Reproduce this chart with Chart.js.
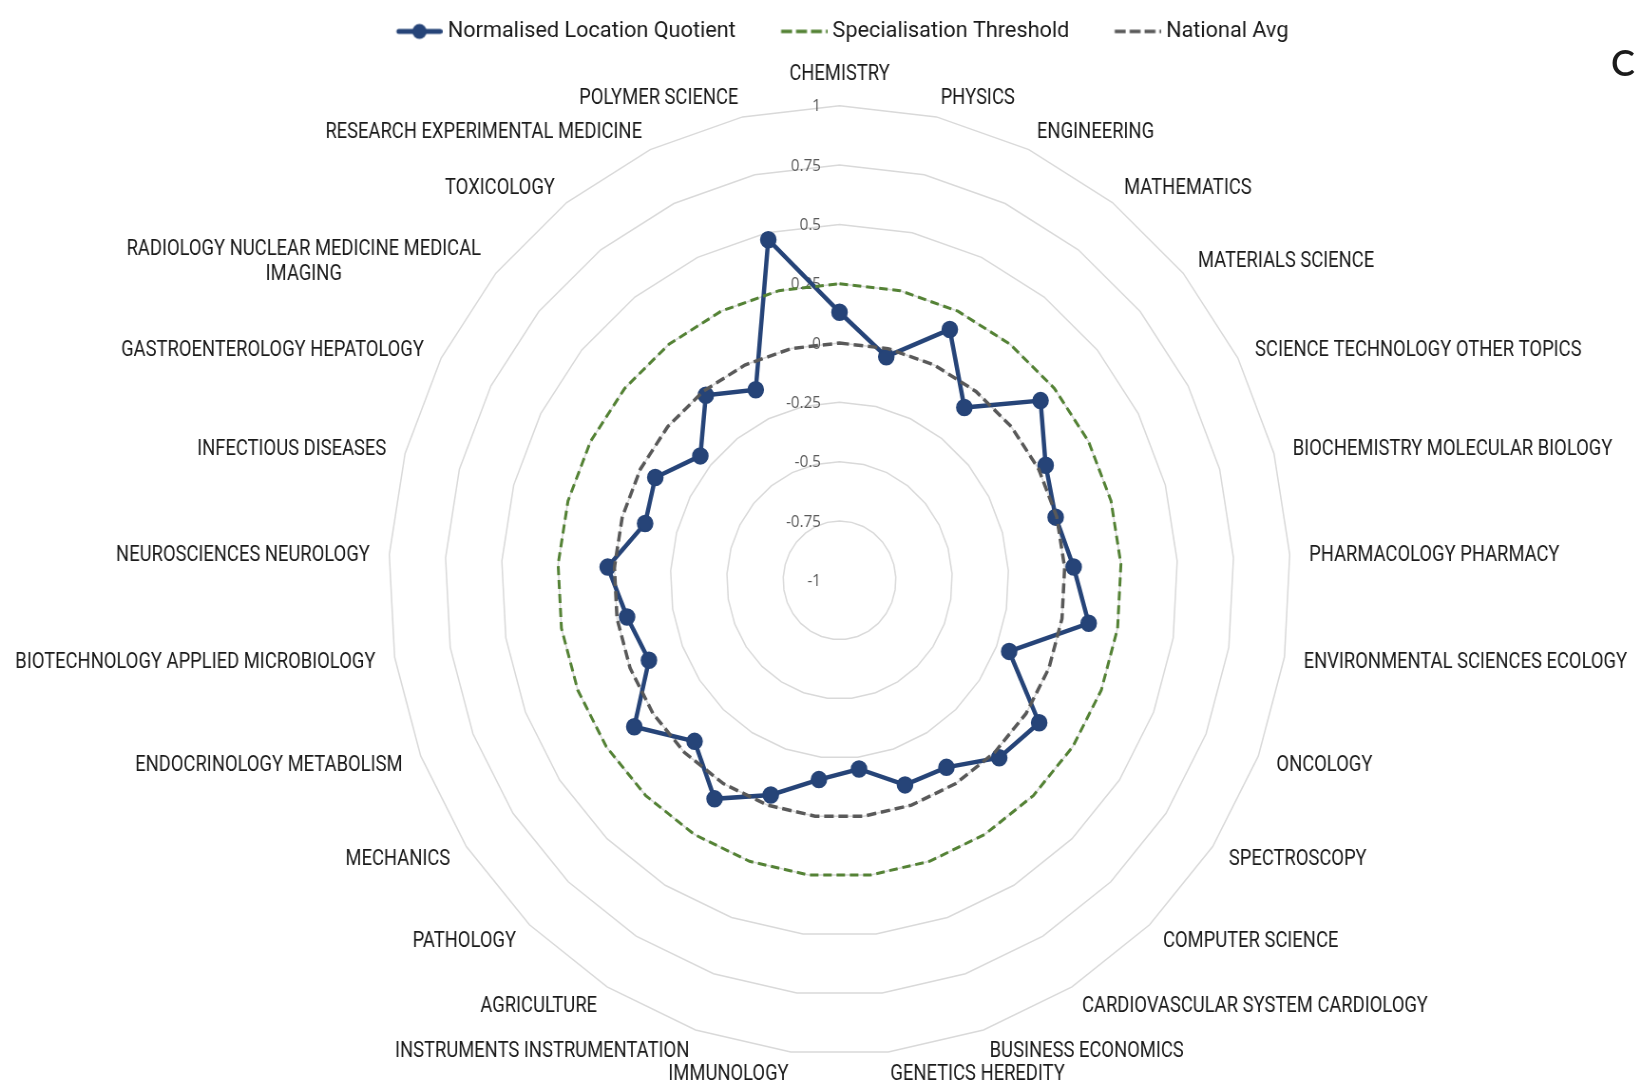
<!DOCTYPE html>
<html>
<head>
<meta charset="utf-8">
<script src="https://cdn.jsdelivr.net/npm/chart.js@4.4.1/dist/chart.umd.min.js"></script>
<style>
  html, body { margin: 0; padding: 0; background: #ffffff; width: 1640px; height: 1088px; overflow: hidden; }
  #wrap { position: absolute; left: 0; top: 0; width: 1726px; height: 1088px; transform: scaleX(0.9502); transform-origin: 0 0; }
  #chart { display: block; }
  #mark { position: absolute; left: 1611px; top: 44px; font-family: Lato, 'Open Sans', sans-serif; font-size: 36px; line-height: 36px; font-weight: 600; color: #1b1b1b; }
</style>
</head>
<body>
<div id="wrap"><canvas id="chart" width="1726" height="1088"></canvas></div>
<div id="mark">C</div>
<script>
// ---- data ----
const categories = [
  'CHEMISTRY', 'PHYSICS', 'ENGINEERING', 'MATHEMATICS', 'MATERIALS SCIENCE',
  'SCIENCE TECHNOLOGY OTHER TOPICS', 'BIOCHEMISTRY MOLECULAR BIOLOGY', 'PHARMACOLOGY PHARMACY',
  'ENVIRONMENTAL SCIENCES ECOLOGY', 'ONCOLOGY', 'SPECTROSCOPY', 'COMPUTER SCIENCE',
  'CARDIOVASCULAR SYSTEM CARDIOLOGY', 'BUSINESS ECONOMICS', 'GENETICS HEREDITY', 'IMMUNOLOGY',
  'INSTRUMENTS INSTRUMENTATION', 'AGRICULTURE', 'PATHOLOGY', 'MECHANICS',
  'ENDOCRINOLOGY METABOLISM', 'BIOTECHNOLOGY APPLIED MICROBIOLOGY', 'NEUROSCIENCES NEUROLOGY',
  'INFECTIOUS DISEASES', 'GASTROENTEROLOGY HEPATOLOGY',
  ['RADIOLOGY NUCLEAR MEDICINE MEDICAL', 'IMAGING'],
  'TOXICOLOGY', 'RESEARCH EXPERIMENTAL MEDICINE', 'POLYMER SCIENCE'
];
const locationQuotient = [
  0.13, -0.035, 0.165, -0.085, 0.17, 0.035, -0.005, 0.04, 0.12, -0.19,
  0.07, 0.03, -0.08, -0.09, -0.20, -0.155, -0.045, 0.075, -0.065, 0.10,
  -0.09, -0.045, 0.03, -0.105, -0.075, -0.19, -0.02, -0.115, 0.47
];
const specialisationThreshold = [
  0.25, 0.25, 0.25, 0.25, 0.25, 0.25, 0.25, 0.25, 0.25, 0.25,
  0.25, 0.25, 0.25, 0.25, 0.25, 0.25, 0.25, 0.25, 0.25, 0.25,
  0.25, 0.25, 0.25, 0.25, 0.25, 0.25, 0.25, 0.25, 0.25
];
const nationalAvg = [
  0, 0, 0, 0, 0, 0, 0, 0, 0, 0,
  0, 0, 0, 0, 0, 0, 0, 0, 0, 0,
  0, 0, 0, 0, 0, 0, 0, 0, 0
];
const tickValues = [-1, -0.75, -0.5, -0.25, 0, 0.25, 0.5, 0.75, 1];
const tickLabels = ['-1', '-0.75', '-0.5', '-0.25', '0', '0.25', '0.5', '0.75', '1'];
const seriesNames = ['Normalised Location Quotient', 'Specialisation Threshold', 'National Avg'];

// ---- styling / geometry ----
const COL_BLUE = '#264478', COL_GREEN = '#548235', COL_GREY = '#595959';
const CX = 883.5, CY = 580.3, RADIUS = 474.5;
const LABEL_FONT = "21.5px Roboto, 'Noto Sans', sans-serif";
const LABEL_SX = 0.90;
const LABEL_LINE = 25;
const LABEL_PAD = 20.5;
const LABEL_DY = 2;
const TICK_FONT = "16px 'Open Sans', 'Noto Sans', sans-serif";
const LEG_FS = 22.8, LEG_W = 48.5, LEG_IMG_W = 92, LEG_H = 24, LEG_BOX = 80.4;

function legendSample(color, withMarker, lw) {
  const c = document.createElement('canvas');
  c.width = LEG_IMG_W; c.height = LEG_H;
  const g = c.getContext('2d');
  const x0 = LEG_IMG_W - LEG_W, y = LEG_H / 2;
  g.strokeStyle = color;
  g.lineWidth = lw;
  if (withMarker) {
    g.lineCap = 'round';
    g.beginPath(); g.moveTo(x0 + 2.5, y); g.lineTo(LEG_IMG_W - 2.5, y); g.stroke();
    g.fillStyle = color;
    g.beginPath(); g.arc(x0 + LEG_W / 2, y, 7.5, 0, Math.PI * 2); g.fill();
  } else {
    g.lineCap = 'butt';
    g.setLineDash([11.5, 4.2]);
    g.beginPath(); g.moveTo(x0, y); g.lineTo(LEG_IMG_W, y); g.stroke();
  }
  return c;
}
const legendImgs = [
  legendSample(COL_BLUE, true, 5),
  legendSample(COL_GREEN, false, 3.5),
  legendSample(COL_GREY, false, 3.5)
];

const radarText = {
  id: 'radarText',
  beforeDatasetsDraw(chart) {
    const s = chart.scales.r;
    const ctx = chart.ctx;
    ctx.save();
    // tick labels, right-aligned just left of the vertical axis
    ctx.font = TICK_FONT;
    ctx.fillStyle = '#595959';
    ctx.textAlign = 'right';
    ctx.textBaseline = 'middle';
    tickValues.forEach((v, i) => {
      const d = s.getDistanceFromCenterForValue(v);
      ctx.fillText(tickLabels[i], s.xCenter - 19.5, s.yCenter - d + 1);
    });
    // category labels
    ctx.font = LABEL_FONT;
    ctx.fillStyle = '#1a1a1a';
    ctx.textAlign = 'center';
    categories.forEach((lab, i) => {
      const lines = Array.isArray(lab) ? lab : [lab];
      const th = s.getIndexAngle(i);
      const sn = Math.sin(th);
      const p = s.getPointPosition(i, s.drawingArea + LABEL_PAD);
      const bw = Math.max(...lines.map(t => ctx.measureText(t).width)) * LABEL_SX;
      const bh = lines.length * LABEL_LINE;
      let left;
      let cy = p.y + LABEL_DY;
      if (sn > 1e-6) left = p.x;
      else if (sn < -1e-6) left = p.x - bw;
      else { left = p.x - bw / 2; cy = p.y - bh / 2 + LABEL_DY; }
      const y0 = cy - bh / 2 + LABEL_LINE / 2;
      lines.forEach((t, k) => {
        ctx.save();
        ctx.translate(left + bw / 2, y0 + k * LABEL_LINE);
        ctx.scale(LABEL_SX, 1);
        ctx.fillText(t, 0, 0);
        ctx.restore();
      });
    });
    ctx.restore();
  }
};

new Chart(document.getElementById('chart'), {
  type: 'radar',
  data: {
    labels: categories,
    datasets: [
      {
        label: seriesNames[0],
        data: locationQuotient,
        borderColor: COL_BLUE,
        backgroundColor: COL_BLUE,
        borderWidth: 4.5,
        pointRadius: 8,
        pointBorderWidth: 1.5,
        pointBackgroundColor: COL_BLUE,
        pointBorderColor: COL_BLUE,
        fill: false,
        order: 3
      },
      {
        label: seriesNames[1],
        data: specialisationThreshold,
        borderColor: COL_GREEN,
        backgroundColor: 'transparent',
        borderWidth: 3,
        borderDash: [9, 5],
        pointRadius: 0,
        fill: false,
        order: 2
      },
      {
        label: seriesNames[2],
        data: nationalAvg,
        borderColor: COL_GREY,
        backgroundColor: 'transparent',
        borderWidth: 3.5,
        borderDash: [10, 5],
        pointRadius: 0,
        fill: false,
        order: 1
      }
    ]
  },
  options: {
    responsive: false,
    animation: false,
    devicePixelRatio: 1,
    layout: { padding: { left: 9.5, top: 10 } },
    plugins: {
      tooltip: { enabled: false },
      legend: {
        display: true,
        position: 'top',
        labels: {
          usePointStyle: true,
          pointStyleWidth: LEG_BOX,
          padding: 10,
          color: '#1a1a1a',
          font: { family: 'Roboto', size: LEG_FS },
          generateLabels: (chart) => chart.data.datasets.map((ds, i) => ({
            text: ds.label,
            pointStyle: legendImgs[i],
            datasetIndex: i,
            hidden: false,
            fontColor: '#1a1a1a',
            fillStyle: 'transparent',
            strokeStyle: 'transparent',
            lineWidth: 0
          }))
        }
      }
    },
    scales: {
      r: {
        min: -1,
        max: 1,
        ticks: { display: false, stepSize: 0.25 },
        grid: { color: '#D9D9D9', lineWidth: 1.5 },
        angleLines: { display: false },
        pointLabels: { display: false },
        afterFit: (s) => { s.xCenter = CX; s.yCenter = CY; s.drawingArea = RADIUS; }
      }
    }
  },
  plugins: [radarText]
});
</script>
</body>
</html>
